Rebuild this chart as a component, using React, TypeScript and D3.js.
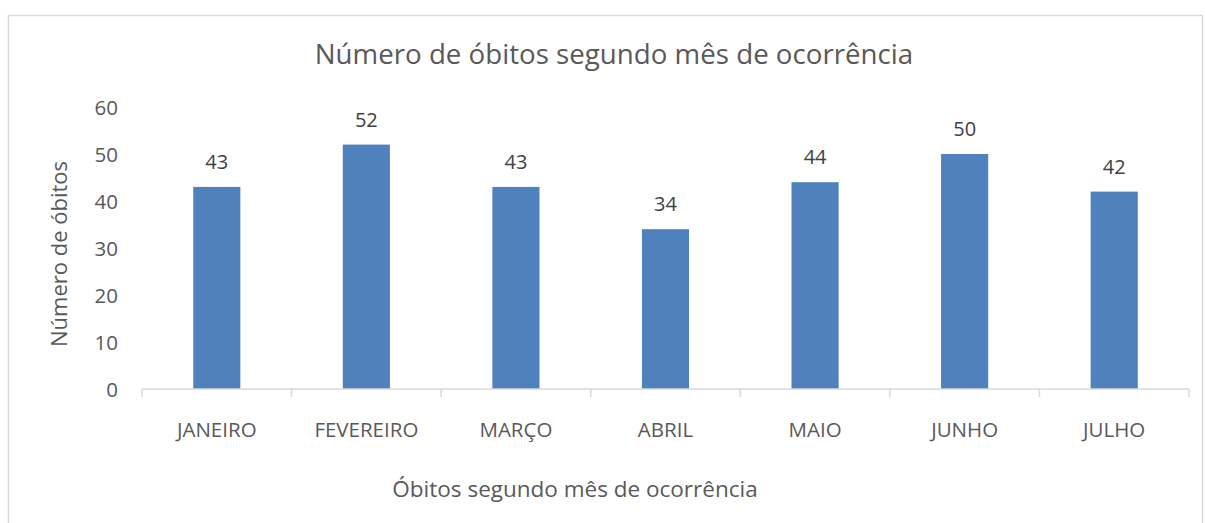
import React, { useEffect, useRef } from 'react'
import * as d3 from 'd3'

const months = ['JANEIRO', 'FEVEREIRO', 'MARÇO', 'ABRIL', 'MAIO', 'JUNHO', 'JULHO']
const deaths = [43, 52, 43, 34, 44, 50, 42]
const yTicks = [0, 10, 20, 30, 40, 50, 60]

const chartTitle = 'Número de óbitos segundo mês de ocorrência'
const yTitle = 'Número de óbitos'
const xTitle = 'Óbitos segundo mês de ocorrência'

const App = () => {
  const ref = useRef<SVGSVGElement>(null)

  useEffect(() => {
    const w = 1205
    const h = 523
    const margin = { top: 107, right: 16, bottom: 134, left: 142 }
    const font = '"Open Sans", "Noto Sans", sans-serif'
    const textColor = '#595959'

    const svg = d3.select(ref.current).attr('width', w).attr('height', h)
    svg.selectAll('*').remove()

    // chart frame
    svg.append('rect')
      .attr('x', 8.5).attr('y', 15.5)
      .attr('width', 1194).attr('height', 600)
      .attr('fill', 'white').attr('stroke', '#d9d9d9').attr('stroke-width', 1.5)

    const xScale = d3.scaleBand().domain(months).range([margin.left, w - margin.right])
      .paddingInner(0.685).paddingOuter(0.3425)
    const bounds = d3.scaleBand().domain(months).range([margin.left, w - margin.right])
    const yScale = d3.scaleLinear().domain([0, 60]).range([h - margin.bottom, margin.top])

    const g = svg.append('g')

    // bars
    g.selectAll('rect.bar').data(deaths).join('rect')
      .attr('class', 'bar')
      .attr('x', (d, i) => xScale(months[i])!)
      .attr('width', xScale.bandwidth())
      .attr('y', d => yScale(d))
      .attr('height', d => yScale(0) - yScale(d))
      .attr('fill', '#4f81bd')

    // value labels
    g.selectAll('text.val').data(deaths).join('text')
      .attr('class', 'val')
      .attr('x', (d, i) => xScale(months[i])! + xScale.bandwidth() / 2)
      .attr('y', d => yScale(d) - 18)
      .attr('text-anchor', 'middle')
      .attr('font-family', font).attr('font-size', 20)
      .attr('fill', '#404040')
      .text(d => d)

    // x axis line and ticks
    const base = yScale(0)
    g.append('line')
      .attr('x1', margin.left).attr('x2', w - margin.right)
      .attr('y1', base).attr('y2', base)
      .attr('stroke', '#d9d9d9').attr('stroke-width', 1.5)
    const edges = months.map(m => bounds(m)!).concat([w - margin.right])
    g.selectAll('line.tick').data(edges).join('line')
      .attr('class', 'tick')
      .attr('x1', d => d).attr('x2', d => d)
      .attr('y1', base).attr('y2', base + 8)
      .attr('stroke', '#d9d9d9').attr('stroke-width', 1.5)

    // category labels
    g.selectAll('text.cat').data(months).join('text')
      .attr('class', 'cat')
      .attr('x', d => bounds(d)! + bounds.bandwidth() / 2)
      .attr('y', 437)
      .attr('text-anchor', 'middle')
      .attr('font-family', font).attr('font-size', 20.5)
      .attr('fill', textColor)
      .text(d => d)

    // y tick labels
    g.selectAll('text.ytick').data(yTicks).join('text')
      .attr('class', 'ytick')
      .attr('x', 118)
      .attr('y', d => yScale(d) + 8)
      .attr('text-anchor', 'end')
      .attr('font-family', font).attr('font-size', 20.5)
      .attr('fill', textColor)
      .text(d => d)

    svg.append('text')
      .attr('x', 614).attr('y', 64)
      .attr('text-anchor', 'middle')
      .attr('font-family', font).attr('font-size', 27.7)
      .attr('fill', textColor)
      .text(chartTitle)

    svg.append('text')
      .attr('transform', `translate(67, 254) rotate(-90)`)
      .attr('text-anchor', 'middle')
      .attr('font-family', font).attr('font-size', 22)
      .attr('fill', textColor)
      .text(yTitle)

    svg.append('text')
      .attr('x', 575).attr('y', 497)
      .attr('text-anchor', 'middle')
      .attr('font-family', font).attr('font-size', 22.5)
      .attr('fill', textColor)
      .text(xTitle)
  }, [])

  return (
    <div style={{ position: 'absolute', left: 0, top: 0 }}>
      <svg ref={ref} style={{ display: 'block' }}></svg>
    </div>
  )
}

export default App
